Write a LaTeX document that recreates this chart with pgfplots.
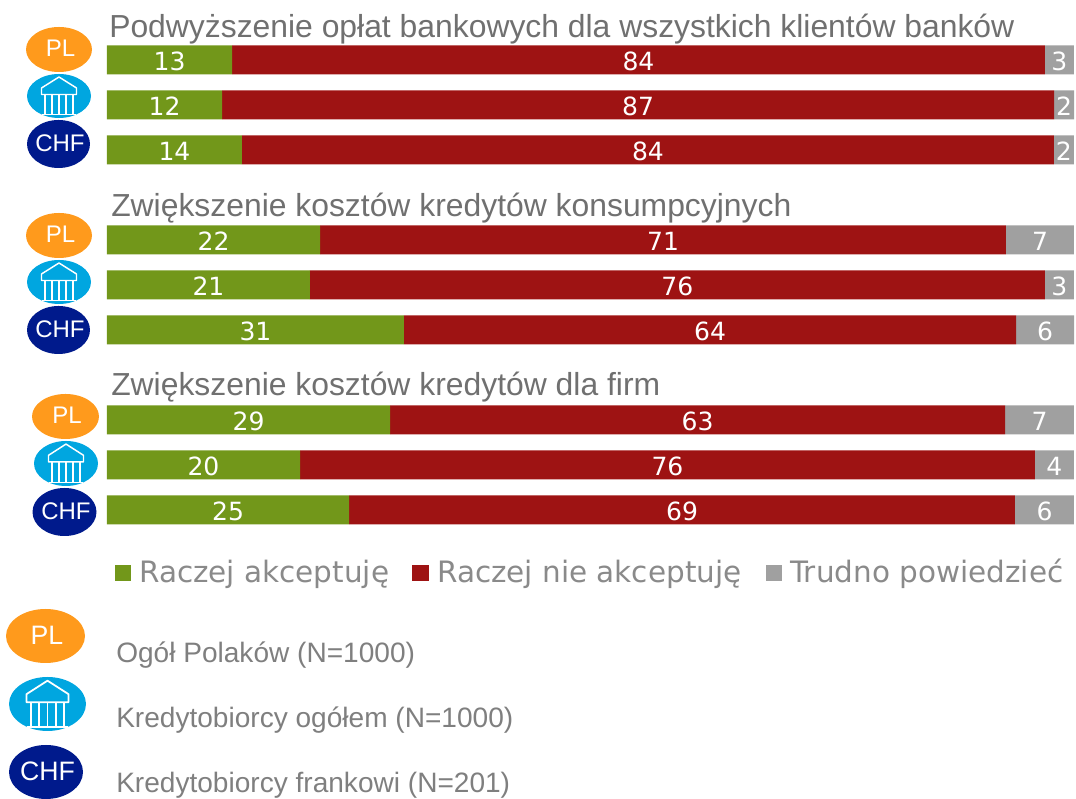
\documentclass[border=0pt]{standalone}
\usepackage{pgfplots}
\usepackage{pgfplotstable}
\usepackage{fontspec}
\pgfplotsset{compat=1.18}
\setmainfont{Liberation Sans}
\newfontfamily\vfont{DejaVu Sans}
\definecolor{cg}{HTML}{72971A}
\definecolor{cr}{HTML}{9E1313}
\definecolor{cy}{HTML}{A0A0A0}
\definecolor{corange}{HTML}{FF9A1C}
\definecolor{cblue}{HTML}{00A6E0}
\definecolor{cnavy}{HTML}{001A8C}
\definecolor{ctitle}{HTML}{707070}
\definecolor{cleg}{HTML}{8A8A8A}
\definecolor{ckey}{HTML}{7F7F7F}
\pgfplotstableread{
y v l
60 12.93 13
105 11.90 12
150 13.96 14
240 22.03 22
285 20.99 21
330 30.71 31
420 29.27 29
465 19.96 20
510 25.03 25
}\tgreen
\pgfplotstableread{
y v l
60 84.07 84
105 86.04 87
150 83.97 84
240 70.94 71
285 76.00 76
330 63.30 64
420 63.60 63
465 76.00 76
510 68.87 69
}\tred
\pgfplotstableread{
y v l
60 3.00 3
105 2.07 2
150 2.07 2
240 7.03 7
285 3.00 3
330 6.00 6
420 7.13 7
465 4.03 4
510 6.10 6
}\tgray
\newcommand{\txt}[5]{\node[anchor=base west,inner sep=0pt,text=#3,font=#4] at ({#1*0.75pt},{(799-#2)*0.75pt}) {#5};}
\newcommand{\badge}[7]{\fill[#5] ({#1*0.75pt},{(799-#2)*0.75pt}) ellipse [x radius={#3*0.75pt},y radius={#4*0.75pt}];
 \node[text=white,inner sep=0pt,font=\fontsize{#6}{#6}\selectfont] at ({(#1+1.5)*0.75pt},{(799-#2+1)*0.75pt}) {#7};}
\newcommand{\bank}[5]{\fill[#5] ({#1*0.75pt},{(799-#2)*0.75pt}) ellipse [x radius={#3*0.75pt},y radius={#4*0.75pt}];
 \begin{scope}[shift={({#1*0.75pt},{(799-#2)*0.75pt})},x={#3*0.75pt/32},y={#4*0.75pt/22},white,line width=1.1pt*#3/32,line join=round]
 \draw (-17.5,8) -- (0,19) -- (17.5,8) -- (17.5,1.5) -- (-17.5,1.5) -- cycle;
 \draw (-14,1.5) -- (-14,-18) (-7,1.5) -- (-7,-18) (0,1.5) -- (0,-18) (7,1.5) -- (7,-18) (14,1.5) -- (14,-18);
 \draw (-17,-18.5) -- (17,-18.5);
 \end{scope}}
\begin{document}
\begin{tikzpicture}
\path[use as bounding box] (0,0) rectangle (807pt,599.25pt);
\begin{axis}[
 at={(0,0)},anchor=south west,
 scale only axis,width=807pt,height=599.25pt,
 xmin=-11.065,xmax=100.21,ymin=0,ymax=799,y dir=reverse,
 axis lines=none,clip=false,
 xbar stacked,bar width=21.75pt,
 point meta=explicit symbolic,
 nodes near coords,
 nodes near coords style={text=white,font=\vfont\fontsize{18.8}{18.8}\selectfont,anchor=center,inner sep=0pt,yshift=-1.2pt},
]
\addplot[fill=cg,draw=none] table[x=v,y=y,meta=l]{\tgreen};
\addplot[fill=cr,draw=none] table[x=v,y=y,meta=l]{\tred};
\addplot[fill=cy,draw=none] table[x=v,y=y,meta=l]{\tgray};
\end{axis}
\txt{109}{38}{ctitle}{\fontsize{23.9}{23.9}\selectfont}{Podwyższenie opłat bankowych dla wszystkich klientów banków}
\txt{111}{217}{ctitle}{\fontsize{23.9}{23.9}\selectfont}{Zwiększenie kosztów kredytów konsumpcyjnych}
\txt{111}{396}{ctitle}{\fontsize{23.9}{23.9}\selectfont}{Zwiększenie kosztów kredytów dla firm}
\txt{116}{663}{ckey}{\fontsize{21.05}{21.05}\selectfont}{Ogół Polaków (N=1000)}
\txt{116}{728}{ckey}{\fontsize{21.05}{21.05}\selectfont}{Kredytobiorcy ogółem (N=1000)}
\txt{116}{793}{ckey}{\fontsize{21.05}{21.05}\selectfont}{Kredytobiorcy frankowi (N=201)}
\fill[cg] (115*0.75pt,{(799-581)*0.75pt}) rectangle (131*0.75pt,{(799-565)*0.75pt});
\fill[cr] (412*0.75pt,{(799-581)*0.75pt}) rectangle (429*0.75pt,{(799-565)*0.75pt});
\fill[cy] (766*0.75pt,{(799-581)*0.75pt}) rectangle (782*0.75pt,{(799-565)*0.75pt});
\txt{139}{583}{cleg}{\vfont\fontsize{22.1}{22.1}\selectfont}{Raczej akceptuję}
\txt{437}{583}{cleg}{\vfont\fontsize{22.1}{22.1}\selectfont}{Raczej nie akceptuję}
\txt{790}{583}{cleg}{\vfont\fontsize{22.1}{22.1}\selectfont}{Trudno powiedzieć}
\badge{59}{49.5}{33}{22.5}{corange}{18}{PL}
\bank{59}{96}{32}{22}{cblue}
\badge{58.5}{144}{31.5}{24}{cnavy}{18}{CHF}
\badge{59}{235.5}{33}{22.5}{corange}{18}{PL}
\bank{59}{282}{32}{22}{cblue}
\badge{58.5}{330}{31.5}{24}{cnavy}{18}{CHF}
\badge{65.5}{416.5}{33.5}{22.5}{corange}{18}{PL}
\bank{66}{463.5}{32}{22.5}{cblue}
\badge{64.5}{512}{32}{24}{cnavy}{18}{CHF}
\badge{45.5}{636}{39.5}{27}{corange}{20}{PL}
\bank{47.5}{704}{38.5}{27}{cblue}
\badge{46}{772}{37}{27}{cnavy}{20}{CHF}
\end{tikzpicture}
\end{document}
